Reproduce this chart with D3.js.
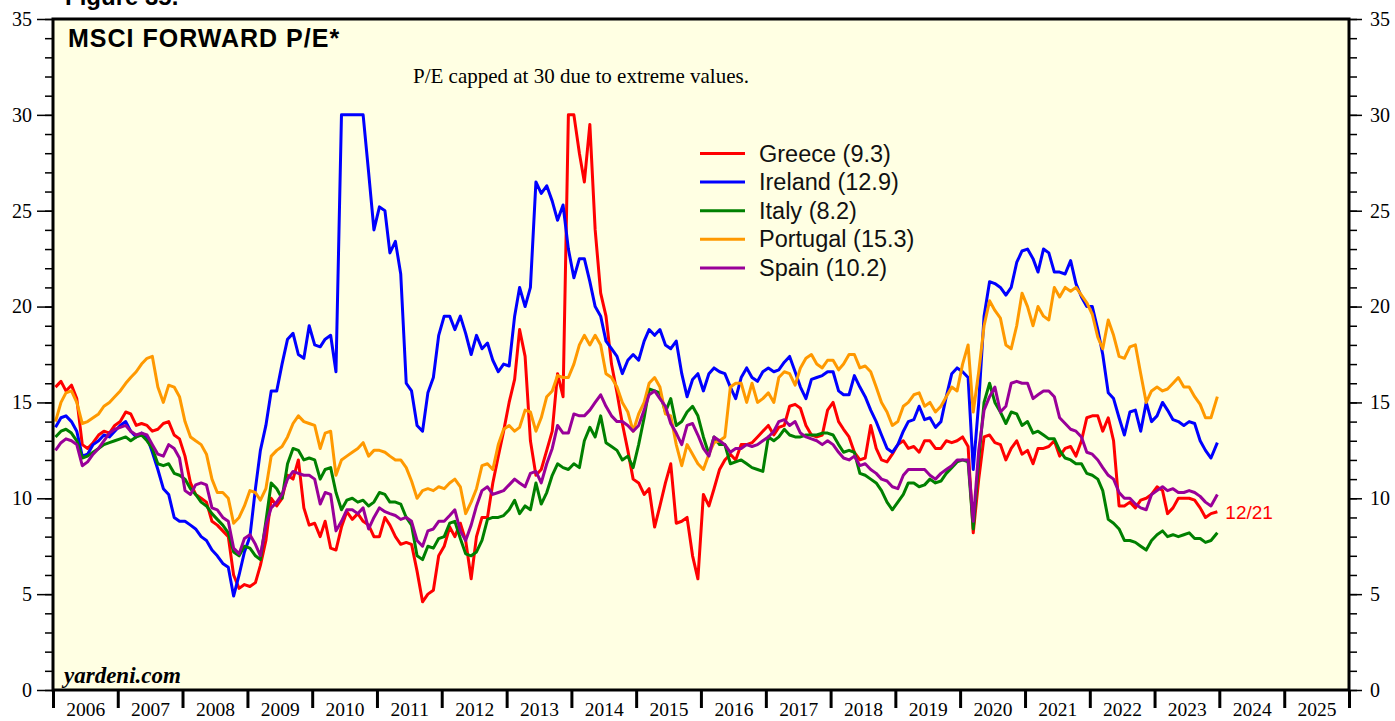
<!DOCTYPE html>
<html>
<head>
<meta charset="utf-8">
<script src="https://cdn.jsdelivr.net/npm/d3@7"></script>
<style>
  body { margin: 0; background: #ffffff; }
  svg { display: block; }
</style>
</head>
<body>
<svg id="chart" width="1395" height="721"></svg>
<script>
// Monthly MSCI forward P/E readings, Jan 2006 through Dec 2023 (last reading 12/21/2023).
const startYear = 2006;

const greece = [
  15.8, 16.1, 15.6, 15.9, 15.2, 12.8, 12.6, 12.9, 13.3, 13.5, 13.4, 13.8,
  14.0, 14.5, 14.4, 13.8, 13.9, 13.8, 13.5, 13.6, 13.9, 14.0, 13.3, 13.1,
  12.2, 10.8, 10.2, 10.0, 9.8, 8.8, 8.6, 8.3, 8.0, 6.0, 5.3, 5.5,
  5.4, 5.6, 6.5, 7.8, 10.0, 9.6, 10.0, 11.2, 11.0, 12.0, 9.5, 8.6,
  8.7, 8.0, 8.8, 7.4, 7.3, 8.5, 9.3, 8.9, 9.2, 8.8, 8.6, 8.0,
  8.0, 9.0, 8.6, 8.0, 7.6, 7.7, 7.6, 6.2, 4.6, 5.0, 5.2, 7.0,
  7.5, 8.5, 8.0, 8.7, 7.8, 5.8, 8.0, 9.0, 9.0, 10.8, 12.2, 13.5,
  15.0, 16.2, 18.8, 17.4, 13.0, 11.2, 11.5, 12.5, 13.5, 16.5, 15.3, 30.0,
  30.0, 28.0, 26.5, 29.5, 24.0, 20.7, 19.5, 17.0, 15.5, 13.9, 12.5, 11.0,
  10.8, 10.2, 10.5, 8.5, 9.6, 10.8, 11.8, 8.7, 8.8, 9.0, 7.0, 5.8,
  10.2, 9.6, 10.5, 11.5, 12.0, 12.3, 12.0, 12.8, 12.8, 12.9, 13.2, 13.5,
  13.8, 13.3, 13.7, 13.8, 14.8, 14.9, 14.7, 13.8, 13.3, 13.2, 13.3, 14.6,
  15.0, 14.0, 13.6, 13.2, 12.4, 12.0, 12.1, 13.8, 12.6, 12.0, 11.9, 12.3,
  12.8, 13.0, 12.6, 12.7, 12.4, 13.0, 13.0, 12.6, 12.6, 13.0, 12.9, 13.0,
  13.2, 12.7, 8.2, 11.0, 13.2, 13.3, 12.9, 12.8, 12.0, 12.6, 13.0, 12.3,
  12.5, 11.8, 12.6, 12.6, 12.7, 13.0, 12.2, 12.6, 12.7, 12.2, 13.0, 14.2,
  14.3, 14.3, 13.5, 14.2, 13.0, 9.6, 9.6, 9.8, 9.5, 9.9, 10.0, 10.2,
  10.6, 10.4, 9.2, 9.5, 10.0, 10.0, 10.0, 9.9, 9.5, 9.0, 9.2, 9.3
];

const ireland = [
  13.7, 14.2, 14.3, 14.0, 13.5, 12.2, 12.3, 12.8, 13.0, 13.3, 13.2, 13.5,
  13.8, 14.0, 13.5, 13.2, 13.4, 13.2, 12.4, 11.5, 10.5, 10.2, 9.0, 8.8,
  8.8, 8.6, 8.4, 8.0, 7.8, 7.3, 7.0, 6.6, 6.4, 4.9, 6.0, 7.2,
  8.0, 10.5, 12.5, 13.8, 15.6, 15.6, 17.0, 18.3, 18.6, 17.5, 17.3, 19.0,
  18.0, 17.9, 18.3, 18.5, 16.6, 30.0, 30.0, 30.0, 30.0, 30.0, 27.0, 24.0,
  25.2, 25.0, 22.8, 23.4, 21.7, 16.0, 15.6, 13.8, 13.5, 15.5, 16.3, 18.5,
  19.5, 19.5, 18.8, 19.5, 18.6, 17.5, 18.5, 17.8, 18.1, 17.2, 16.6, 17.0,
  16.9, 19.5, 21.0, 20.0, 21.0, 26.5, 25.9, 26.3, 25.5, 24.5, 25.3, 23.0,
  21.5, 22.5, 22.5, 21.3, 20.0, 19.5, 18.2, 17.8, 17.4, 16.5, 17.2, 17.5,
  17.2, 18.2, 18.8, 18.5, 18.8, 18.0, 17.8, 18.2, 16.5, 15.3, 16.2, 16.5,
  15.6, 16.5, 16.8, 16.6, 16.5, 15.8, 15.2, 16.3, 16.8, 16.3, 16.1, 16.6,
  16.8, 16.6, 16.7, 17.1, 17.4, 16.6, 15.8, 15.2, 16.2, 16.3, 16.4, 16.6,
  16.6, 15.6, 15.4, 15.4, 16.4, 15.8, 15.3, 14.6, 14.0, 13.3, 12.6, 12.4,
  12.8, 13.5, 14.0, 14.1, 14.8, 14.1, 14.2, 13.7, 14.0, 15.3, 16.5, 16.8,
  16.6, 16.3, 11.5, 15.0, 19.5, 21.3, 21.2, 21.0, 20.6, 21.0, 22.3, 22.9,
  23.0, 22.5, 21.8, 23.0, 22.8, 21.8, 21.8, 21.7, 22.4, 21.2, 20.5, 20.0,
  20.0, 18.8, 17.5, 15.5, 15.2, 14.2, 13.3, 14.5, 14.6, 13.5, 15.0, 14.0,
  14.3, 15.0, 14.6, 14.1, 14.0, 13.8, 14.0, 13.9, 13.0, 12.5, 12.1, 12.9
];

const italy = [
  13.2, 13.5, 13.6, 13.4, 13.0, 12.1, 12.2, 12.4, 12.6, 12.8, 12.9, 13.0,
  13.1, 13.2, 13.0, 13.2, 13.3, 13.0, 12.6, 11.8, 11.7, 11.8, 11.3, 11.2,
  11.0, 10.5, 10.2, 9.8, 9.6, 9.2, 8.9, 8.6, 8.2, 7.2, 7.0, 7.5,
  7.4, 7.0, 6.8, 8.8, 10.8, 10.5, 10.0, 11.8, 12.6, 12.5, 12.0, 12.1,
  12.0, 11.0, 11.5, 11.6, 10.3, 9.4, 9.9, 10.0, 9.8, 9.9, 9.6, 9.8,
  10.3, 10.2, 9.8, 9.8, 9.7, 9.0, 8.6, 7.0, 6.8, 7.5, 7.4, 7.9,
  8.0, 8.7, 8.8, 7.9, 7.1, 7.0, 7.2, 7.8, 8.9, 9.0, 9.0, 9.1,
  9.4, 9.9, 9.2, 9.6, 9.4, 10.8, 9.7, 10.3, 11.2, 11.8, 11.6, 11.5,
  11.8, 11.6, 13.0, 13.7, 13.2, 14.3, 12.9, 12.7, 12.5, 12.0, 12.2, 11.6,
  12.8, 14.2, 15.7, 15.6, 15.5, 14.5, 15.2, 13.8, 14.0, 14.5, 14.8, 14.3,
  13.2, 12.3, 13.2, 12.8, 12.8, 11.8, 11.9, 12.0, 11.8, 11.6, 11.5, 11.4,
  13.2, 13.0, 13.2, 13.6, 13.3, 13.2, 13.2, 13.3, 13.3, 13.3, 13.4, 13.4,
  13.3, 12.8, 12.4, 12.5, 12.4, 11.3, 11.2, 11.0, 10.8, 10.4, 9.8, 9.4,
  9.8, 10.2, 10.8, 10.8, 10.6, 10.7, 11.0, 10.8, 10.9, 11.3, 11.6, 11.9,
  12.0, 11.9, 8.4, 12.0, 15.0, 16.0, 15.0, 14.5, 13.9, 14.5, 14.4, 13.8,
  14.0, 13.4, 13.5, 13.3, 13.1, 13.1, 12.5, 12.1, 12.0, 11.8, 11.8, 11.3,
  11.2, 11.0, 10.4, 8.9, 8.7, 8.4, 7.8, 7.8, 7.7, 7.5, 7.3, 7.8,
  8.1, 8.3, 8.0, 8.1, 8.0, 8.1, 8.2, 7.9, 7.9, 7.7, 7.8, 8.2
];

const portugal = [
  14.0, 15.0, 15.5, 15.6, 15.0, 13.9, 14.0, 14.2, 14.4, 14.8, 15.0, 15.3,
  15.6, 16.0, 16.3, 16.6, 17.0, 17.3, 17.4, 15.8, 15.0, 15.9, 15.8, 15.3,
  14.0, 13.2, 13.0, 12.8, 12.3, 11.0, 10.3, 10.3, 10.0, 8.7, 9.0, 9.6,
  10.4, 10.3, 9.9, 10.5, 12.2, 12.5, 12.7, 13.2, 13.9, 14.3, 14.0, 13.9,
  13.8, 12.6, 13.4, 13.5, 11.2, 12.0, 12.2, 12.4, 12.6, 12.9, 12.2, 12.5,
  12.5, 12.4, 12.2, 12.0, 12.0, 11.6, 10.9, 10.0, 10.4, 10.5, 10.4, 10.6,
  10.5, 10.8, 11.0, 10.6, 9.2, 9.8, 10.5, 11.7, 11.8, 11.5, 12.8, 13.6,
  13.8, 13.5, 13.7, 14.6, 14.5, 13.5, 14.2, 15.3, 15.6, 16.4, 16.3, 16.3,
  17.0, 18.0, 18.5, 18.0, 18.5, 18.0, 16.5, 16.3, 15.8, 15.0, 14.5, 13.5,
  14.4, 15.0, 16.0, 16.3, 15.8, 14.4, 14.3, 12.8, 11.7, 12.8, 12.3, 11.8,
  11.5, 12.3, 12.9, 13.0, 13.2, 15.8, 16.0, 16.0, 15.0, 16.0, 15.0, 15.2,
  15.5, 15.0, 16.3, 16.6, 16.5, 15.9, 16.8, 17.3, 17.5, 17.0, 16.8, 17.2,
  17.2, 16.7, 17.0, 17.5, 17.5, 16.8, 16.9, 16.6, 15.8, 15.0, 14.5, 13.8,
  14.0, 14.8, 15.0, 15.4, 15.5, 14.8, 15.0, 14.5, 14.8, 15.3, 15.8, 15.6,
  17.0, 18.0, 14.5, 16.6, 19.0, 20.3, 19.8, 19.4, 18.0, 17.8, 19.0, 20.7,
  20.0, 19.0, 20.0, 19.5, 19.3, 21.0, 20.5, 21.0, 20.8, 21.0, 20.6, 20.2,
  19.6, 18.4, 17.8, 19.3, 18.5, 17.4, 17.3, 17.9, 18.0, 16.5, 15.0, 15.6,
  15.8, 15.6, 15.7, 16.0, 16.3, 15.8, 15.8, 15.3, 14.9, 14.2, 14.2, 15.3
];

const spain = [
  12.5, 12.9, 13.1, 13.0, 12.8, 11.7, 11.9, 12.3, 12.6, 13.0, 13.4, 13.6,
  13.7, 13.8, 13.5, 13.3, 13.4, 13.3, 12.8, 12.3, 12.2, 12.8, 12.6, 12.1,
  10.4, 10.2, 10.7, 10.8, 10.7, 9.5, 9.4, 9.0, 8.8, 7.4, 7.1, 7.9,
  8.1, 7.6, 7.0, 8.6, 9.5, 9.8, 10.2, 11.0, 11.4, 11.3, 11.2, 11.2,
  11.0, 9.7, 10.3, 10.2, 8.3, 8.8, 9.4, 9.4, 9.2, 9.5, 8.4, 9.0,
  9.5, 9.3, 9.2, 9.1, 8.9, 9.0, 8.8, 7.8, 7.5, 8.3, 8.4, 8.8,
  8.8, 9.1, 9.4, 8.3, 7.8, 8.6, 9.6, 10.4, 10.6, 10.2, 10.3, 10.4,
  10.7, 11.0, 10.8, 10.6, 11.3, 11.4, 10.8, 11.8, 12.6, 13.8, 13.4, 13.4,
  14.4, 14.3, 14.3, 14.6, 15.0, 15.4, 14.8, 14.3, 14.0, 14.0, 13.8, 13.5,
  13.8, 14.6, 15.4, 15.6, 15.2, 14.8, 13.9, 13.4, 12.8, 13.8, 13.9, 13.3,
  12.6, 12.2, 13.2, 13.0, 12.8, 12.4, 12.6, 12.6, 12.8, 12.7, 12.8, 13.0,
  13.2, 13.5, 14.0, 14.1, 13.8, 14.0, 13.4, 13.2, 13.1, 13.0, 12.8, 13.0,
  12.8, 12.4, 12.1, 12.0, 12.2, 11.7, 11.8, 11.5, 11.3, 11.0, 10.9, 10.6,
  10.5, 11.2, 11.5, 11.5, 11.5, 11.5, 11.2, 11.0, 11.3, 11.5, 11.7, 12.0,
  12.0, 12.0, 8.8, 12.5, 14.6, 15.3, 15.8, 14.5, 14.8, 16.0, 16.1, 16.0,
  16.0, 15.2, 15.4, 15.6, 15.6, 15.3, 14.2, 13.9, 13.6, 13.5, 13.2, 12.4,
  12.3, 12.0, 11.6, 11.2, 11.0, 10.3, 10.0, 10.0, 9.7, 9.5, 9.4, 10.2,
  10.4, 10.6, 10.4, 10.5, 10.3, 10.3, 10.4, 10.3, 10.1, 9.8, 9.6, 10.2
];

const seriesNames = ["Greece", "Ireland", "Italy", "Portugal", "Spain"];
const seriesColors = ["#ff0000", "#0000ff", "#008000", "#ff9900", "#990099"];
const seriesValues = [greece, ireland, italy, portugal, spain];
const yearLabels = d3.range(2006, 2026);
const lastReading = new Date(2023, 11, 21);
const lastReadingLabel = "12/21";

// Dates: mid-month points, with the final point on the latest reading date.
const dates = greece.map((_, i) =>
  i === greece.length - 1 ? lastReading : new Date(startYear + Math.floor(i / 12), i % 12, 15));

const series = seriesNames.map((name, k) => ({
  name,
  color: seriesColors[k],
  values: seriesValues[k].map((v, i) => ({ date: dates[i], value: v }))
}));

const svg = d3.select("#chart");
const plot = { left: 53, right: 1349, top: 19, bottom: 690 };

const x = d3.scaleTime()
  .domain([new Date(2006, 0, 1), new Date(2026, 0, 1)])
  .range([plot.left, plot.right]);
const y = d3.scaleLinear().domain([0, 35]).range([plot.bottom, plot.top]);

const serif = "'Liberation Serif', 'Times New Roman', serif";
const sans = "'Liberation Sans', Arial, Helvetica, sans-serif";

// Plot background
svg.append("rect")
  .attr("x", plot.left).attr("y", plot.top)
  .attr("width", plot.right - plot.left).attr("height", plot.bottom - plot.top)
  .attr("fill", "#ffffe3");

// Y axes: minor ticks every unit, major ticks with labels every 5
const minorTicks = d3.range(0, 36, 1);
const majorTicks = d3.range(0, 36, 5);

function styleAxis(g, width, size = 20) {
  g.select(".domain").remove();
  g.selectAll(".tick line").attr("stroke", "#000").attr("stroke-width", width);
  g.selectAll(".tick text").attr("fill", "#000").style("font-family", serif).style("font-size", size + "px");
}

svg.append("g").attr("transform", `translate(${plot.left},0)`)
  .call(d3.axisLeft(y).tickValues(minorTicks).tickSize(8).tickFormat(""))
  .call(g => styleAxis(g, 1.5));
svg.append("g").attr("transform", `translate(${plot.left},0)`)
  .call(d3.axisLeft(y).tickValues(majorTicks).tickSize(16).tickPadding(5).tickFormat(d3.format("d")))
  .call(g => styleAxis(g, 1.5));

svg.append("g").attr("transform", `translate(${plot.right},0)`)
  .call(d3.axisRight(y).tickValues(minorTicks).tickSize(8).tickFormat(""))
  .call(g => styleAxis(g, 1.5));
svg.append("g").attr("transform", `translate(${plot.right},0)`)
  .call(d3.axisRight(y).tickValues(majorTicks).tickSize(13).tickPadding(8).tickFormat(d3.format("d")))
  .call(g => styleAxis(g, 1.5));

// Bottom axis: year boundary ticks, labels centred in each year
const yearStarts = d3.range(2006, 2027).map(yr => new Date(yr, 0, 1));
svg.append("g").attr("transform", `translate(0,${plot.bottom})`)
  .call(d3.axisBottom(x).tickValues(yearStarts).tickSize(18).tickFormat(""))
  .call(g => styleAxis(g, 3));
svg.append("g").attr("transform", `translate(0,${plot.bottom})`)
  .call(d3.axisBottom(x).tickValues(yearLabels.map(yr => new Date(yr, 6, 2)))
    .tickSize(0).tickPadding(12.5).tickFormat(d => String(d.getFullYear())))
  .call(g => styleAxis(g, 0, 19.5));

// Series lines, clipped to the plot
svg.append("clipPath").attr("id", "plot-clip")
  .append("rect")
  .attr("x", plot.left).attr("y", plot.top)
  .attr("width", plot.right - plot.left).attr("height", plot.bottom - plot.top);

const line = d3.line().x(d => x(d.date)).y(d => y(d.value));

svg.append("g").attr("clip-path", "url(#plot-clip)")
  .selectAll("path")
  .data(series)
  .join("path")
  .attr("d", d => line(d.values))
  .attr("fill", "none")
  .attr("stroke", d => d.color)
  .attr("stroke-width", 3)
  .attr("stroke-linejoin", "round");

// Plot frame
svg.append("rect")
  .attr("x", plot.left).attr("y", plot.top)
  .attr("width", plot.right - plot.left).attr("height", plot.bottom - plot.top)
  .attr("fill", "none").attr("stroke", "#000").attr("stroke-width", 3);

// Titles and notes
svg.append("text").attr("x", 65).attr("y", 5)
  .style("font-family", sans).style("font-size", "24px").style("font-weight", "bold")
  .text("Figure 35.");

svg.append("text").attr("x", 68).attr("y", 47)
  .style("font-family", sans).style("font-size", "25px").style("font-weight", "bold")
  .style("letter-spacing", "1px")
  .text("MSCI FORWARD P/E*");

svg.append("text").attr("x", 413).attr("y", 83)
  .style("font-family", serif).style("font-size", "21px")
  .text("P/E capped at 30 due to extreme values.");

svg.append("text").attr("x", 64).attr("y", 683)
  .style("font-family", serif).style("font-size", "23px")
  .style("font-weight", "bold").style("font-style", "italic")
  .text("yardeni.com");

// Latest reading date label
const greeceLast = series[0].values[series[0].values.length - 1];
svg.append("text")
  .attr("x", x(greeceLast.date) + 8).attr("y", y(greeceLast.value) + 7)
  .attr("fill", "#ff0000")
  .style("font-family", sans).style("font-size", "19px")
  .text(lastReadingLabel);

// Legend with latest values
const legend = svg.append("g").attr("transform", "translate(700,153.5)");
const rows = legend.selectAll("g").data(series).join("g")
  .attr("transform", (d, i) => `translate(0,${i * 28.6})`);
rows.append("line").attr("x1", 0).attr("x2", 45).attr("y1", 0).attr("y2", 0)
  .attr("stroke", d => d.color).attr("stroke-width", 3);
rows.append("text").attr("x", 59).attr("y", 8)
  .style("font-family", sans).style("font-size", "23.5px").attr("fill", "#111")
  .text(d => `${d.name} (${d.values[d.values.length - 1].value.toFixed(1)})`);
</script>
</body>
</html>
